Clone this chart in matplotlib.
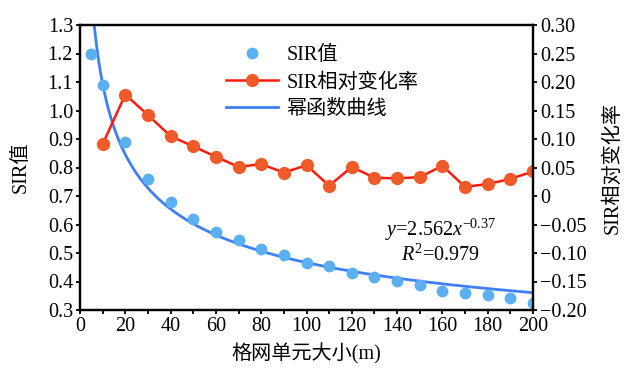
import numpy as np
import matplotlib
matplotlib.use('Agg')
import matplotlib.pyplot as plt

plt.rcParams['font.family'] = ['Liberation Serif', 'Noto Sans CJK SC']
plt.rcParams['mathtext.fontset'] = 'custom'
plt.rcParams['mathtext.rm'] = 'Liberation Serif'
plt.rcParams['mathtext.it'] = 'Liberation Serif:italic'
plt.rcParams['axes.unicode_minus'] = True

# data
sir_x = [5, 10, 20, 30, 40, 50, 60, 70, 80, 90, 100, 110, 120, 130, 140,
         150, 160, 170, 180, 190, 200]
sir_val = [1.20, 1.09, 0.89, 0.76, 0.68, 0.62, 0.575, 0.546, 0.515, 0.492,
           0.464, 0.455, 0.429, 0.417, 0.402, 0.388, 0.367, 0.359, 0.353,
           0.341, 0.326]
rate_x = [10, 20, 30, 40, 50, 60, 70, 80, 90, 100, 110, 120, 130, 140, 150,
          160, 170, 180, 190, 200]
rate_val = [0.091, 0.178, 0.142, 0.105, 0.087, 0.069, 0.051, 0.056, 0.041,
            0.054, 0.018, 0.051, 0.032, 0.031, 0.033, 0.053, 0.016, 0.021,
            0.030, 0.043]
# fitted power function y = a * x^b
fit_a = 2.562
fit_b = -0.37

xc = np.linspace(6.2, 200, 400)
yc = fit_a * xc ** fit_b

fs = 14.5

fig = plt.figure(figsize=(6.41, 3.75), dpi=100)
ax = fig.add_axes([80/641, 1-310/375, (533-80)/641, (310-25)/375])
ax2 = ax.twinx()

h1, = ax.plot(sir_x, sir_val, 'o', color='#5ab0f0', ms=8.5, mec='none', label='SIR值', zorder=3)
h3, = ax.plot(xc, yc, '-', color='#3f7ff5', lw=2, label='幂函数曲线', zorder=2)
h2, = ax2.plot(rate_x, rate_val, '-o', color='#ff1a10', mfc='#f05a28', mec='#f05a28',
               ms=8.5, lw=1.8, label='SIR相对变化率')

ax.set_xlim(0, 200)
ax.set_ylim(0.3, 1.3)
ax2.set_ylim(-0.2, 0.3)
ax.set_xticks(np.arange(0, 201, 20))
ax.set_xticks(np.arange(0, 201, 10), minor=True)
ax.set_yticks(np.arange(0.3, 1.31, 0.1))
ax.set_yticklabels(['%.1f' % v for v in np.arange(0.3, 1.31, 0.1)])
ax2.set_yticks(np.arange(-0.2, 0.31, 0.05))
labs = []
for v in np.arange(-0.2, 0.31, 0.05):
    if abs(v) < 1e-9:
        labs.append('0')
    elif v < 0:
        labs.append('\u2212%.2f' % abs(v))
    else:
        labs.append('%.2f' % v)
ax2.set_yticklabels(labs)

for a in (ax, ax2):
    for s in a.spines.values():
        s.set_linewidth(1.6)
    a.tick_params(which='both', direction='out', length=3, width=1.3, labelsize=fs, pad=2)
    a.tick_params(which='minor', length=3)

ax.set_xlabel('格网单元大小(m)', fontsize=fs, labelpad=5)
ax.set_ylabel('SIR值', fontsize=fs, labelpad=12)
ax2.set_ylabel('SIR相对变化率', fontsize=fs, labelpad=12)

ax.legend(handles=[h1, h2, h3], loc='upper left', bbox_to_anchor=(0.322, 0.925),
          frameon=False, fontsize=fs, handlelength=2.6, labelspacing=0.38,
          handletextpad=0.4, borderaxespad=0, borderpad=0)

ax.text(0.795, 0.281, r'$y$=2.562$x^{-0.37}$', transform=ax.transAxes,
        ha='center', va='center', fontsize=fs)
ax.text(0.795, 0.193, r'$R^2$=0.979', transform=ax.transAxes,
        ha='center', va='center', fontsize=fs)

fig.savefig('out.png', dpi=100)
